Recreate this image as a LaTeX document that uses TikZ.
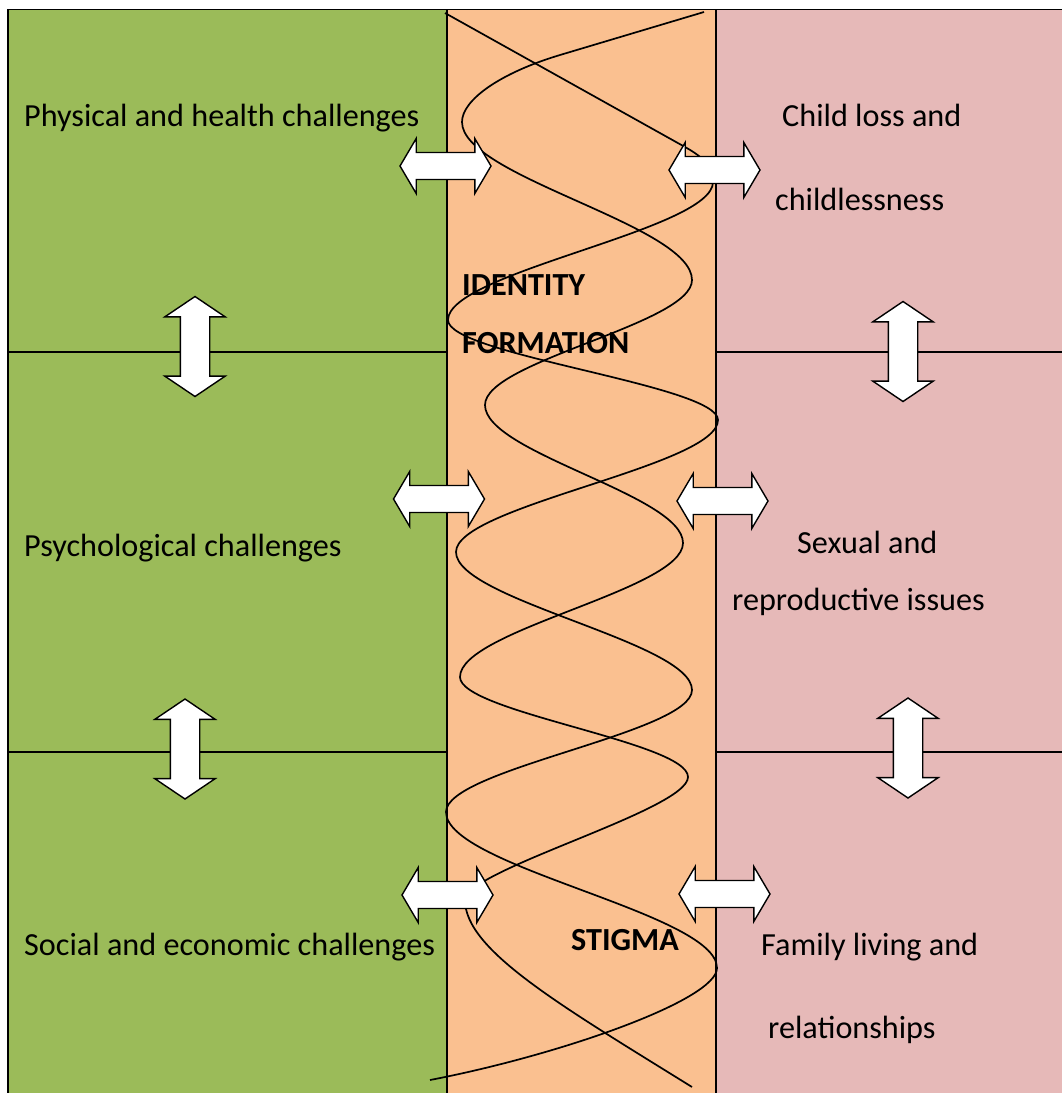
\documentclass[tikz,border=0pt]{standalone}
\usepackage{fontspec}
\setmainfont{Carlito}
\usetikzlibrary{shapes.arrows}
\definecolor{cgreen}{HTML}{9BBB59}
\definecolor{corange}{HTML}{FAC090}
\definecolor{cpink}{HTML}{E6B9B8}
\begin{document}
\begin{tikzpicture}[x=1pt,y=-1pt,
  lbl/.style={anchor=base west, inner sep=0pt, font=\fontsize{32.2}{38}\selectfont},
  blbl/.style={anchor=base west, inner sep=0pt, font=\fontsize{32.2}{38}\selectfont\bfseries},
  arrbase/.style={double arrow, draw=black, fill=white, line width=1.4pt,
    text height=0pt, text depth=0pt, inner xsep=0pt},
  harr/.style={arrbase, inner ysep=12.8pt, minimum height=91pt,
    double arrow head extend=14pt, double arrow tip angle=119},
  varr/.style={arrbase, rotate=90, inner ysep=14pt, minimum height=100pt,
    double arrow head extend=15.5pt, double arrow tip angle=112},
  gridline/.style={line width=1.8pt},
  helix/.style={line width=1.7pt}]
\useasboundingbox (0,0) rectangle (1062,1093);
% column fills
\fill[cgreen]  (8,9) rectangle (447,1093);
\fill[corange] (447,9) rectangle (716,1093);
\fill[cpink]   (716,9) rectangle (1062,1093);
% helix curves
\draw[helix] (445,13) -- (685,147) .. controls (705,158) and (713,168) .. (713,182)
  .. controls (713,230) and (448,272) .. (448,320)
  .. controls (448,355) and (718,385) .. (718,420)
  .. controls (718,466) and (456,506) .. (456,552)
  .. controls (456,600) and (692,642) .. (692,690)
  .. controls (692,733) and (446,769) .. (446,812)
  .. controls (446,867) and (717,913) .. (717,968)
  .. controls (717,1000) and (560,1055) .. (430,1080);
\draw[helix] (704,12) -- (560,55) .. controls (500,73) and (462,100) .. (462,122)
  .. controls (462,177) and (692,225) .. (692,280)
  .. controls (692,324) and (485,361) .. (485,405)
  .. controls (485,453) and (683,495) .. (683,543)
  .. controls (683,590) and (460,630) .. (460,677)
  .. controls (460,712) and (688,742) .. (688,777)
  .. controls (688,810) and (465,870) .. (465,900)
  .. controls (465,950) and (560,1005) .. (692,1087);
% grid lines
\draw[gridline] (8,1093) -- (8,9.5) -- (1062,9.5);
\draw[gridline] (447,9.5) -- (447,1093);
\draw[gridline] (716,9.5) -- (716,1093);
\draw[gridline] (8,352) -- (447,352);
\draw[gridline] (716,352) -- (1062,352);
\draw[gridline] (8,752) -- (447,752);
\draw[gridline] (716,752) -- (1062,752);
% labels
\node[lbl] (phys) at (24,126) {Physical and health challenges};
\node[lbl] (psych) at (24,556) {Psychological challenges};
\node[lbl] (soc) at (24,955) {Social and economic challenges};
\node[lbl] (childA) at (782,126) {Child loss and};
\node[lbl] (childB) at (775,210) {childlessness};
\node[lbl] (sexA) at (797,553) {Sexual and};
\node[lbl] (sexB) at (732,610) {reproductive issues};
\node[lbl] (famA) at (761,955) {Family living and};
\node[lbl] (famB) at (768,1038) {relationships};
\node[blbl] (idA) at (462,295) {IDENTITY};
\node[blbl] (idB) at (462,353) {FORMATION};
\node[blbl] (stig) at (571,950) {STIGMA};
% double arrows
\node[harr] (h1) at (445.5,166) {};
\node[harr] (h2) at (714.5,170) {};
\node[harr] (h3) at (439,499) {};
\node[harr] (h4) at (722.5,501) {};
\node[harr] (h5) at (447.5,895) {};
\node[harr] (h6) at (724.5,894) {};
\node[varr] (v1) at (195,346.5) {};
\node[varr] (v2) at (185,749) {};
\node[varr] (v3) at (903,351.5) {};
\node[varr] (v4) at (908,748) {};
\end{tikzpicture}
\end{document}
